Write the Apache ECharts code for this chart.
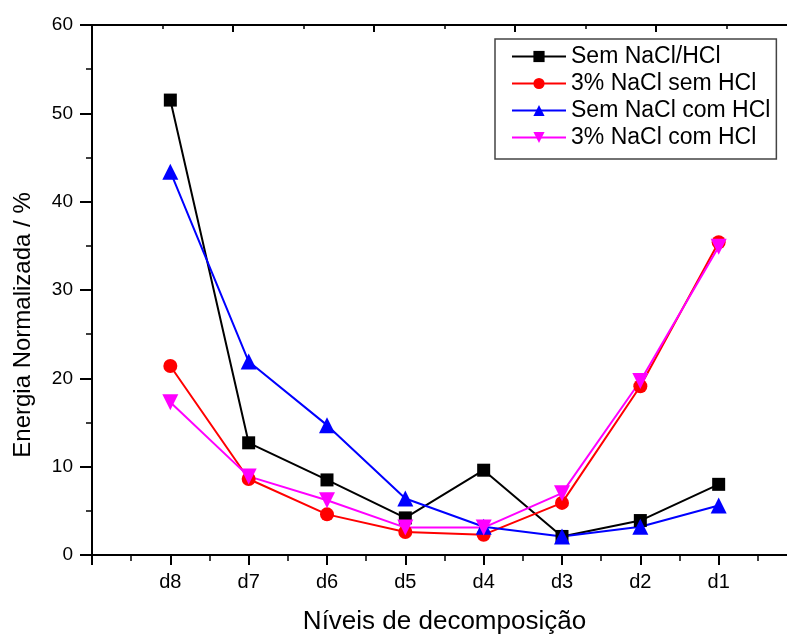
<!DOCTYPE html>
<html>
<head>
<meta charset="utf-8">
<script src="https://cdn.jsdelivr.net/npm/echarts@6/dist/echarts.min.js"></script>
<style>
  html, body { margin: 0; padding: 0; background: #fff; }
  #chart { width: 787px; height: 636px; }
</style>
</head>
<body>
<div id="chart"></div>
<script>
// Decomposition levels (x axis) and normalized energy per level (%)
const levels = ['d8', 'd7', 'd6', 'd5', 'd4', 'd3', 'd2', 'd1'];
const semNaClHCl      = [51.5, 12.7, 8.5, 4.2, 9.6, 2.1, 3.9, 8.0];
const naCl3SemHCl     = [21.4, 8.6, 4.6, 2.6, 2.3, 5.9, 19.1, 35.4];
const semNaClComHCl   = [43.4, 21.9, 14.7, 6.4, 3.2, 2.1, 3.2, 5.6];
const naCl3ComHCl     = [17.3, 8.9, 6.2, 3.1, 3.1, 7.0, 19.7, 34.9];
const yTicks = [0, 10, 20, 30, 40, 50, 60];

const FONT = 'Liberation Sans, Arial, sans-serif';

// Levels sit on integer positions 1..8 of a numeric axis
const toPoints = vals => vals.map((v, i) => [i + 1, v]);

function lineSeries(name, vals, color, symbol, size, rotate) {
  return {
    name: name,
    type: 'line',
    data: toPoints(vals),
    symbol: symbol,
    symbolSize: size,
    symbolRotate: rotate || 0,
    lineStyle: { color: color, width: 2 },
    itemStyle: { color: color, borderWidth: 0 },
    emphasis: { disabled: true },
    animation: false
  };
}

const chart = echarts.init(document.getElementById('chart'), null, { renderer: 'canvas' });

chart.setOption({
  backgroundColor: '#fff',
  animation: false,
  // the frame runs past the right edge of the canvas
  grid: { left: 92, top: 25, width: 705, height: 530, outerBoundsMode: 'none' },
  legend: {
    orient: 'vertical',
    left: 495,
    top: 39,
    padding: [6, 6, 10, 16],
    itemWidth: 54,
    itemHeight: 14,
    itemGap: 4,
    borderColor: '#444',
    borderWidth: 1.5,
    backgroundColor: '#fff',
    textStyle: { fontFamily: FONT, fontSize: 23, color: '#000' },
    data: ['Sem NaCl/HCl', '3% NaCl sem HCl', 'Sem NaCl com HCl', '3% NaCl com HCl']
  },
  xAxis: [
    {
      type: 'value',
      position: 'bottom',
      min: 0, max: 9, interval: 1,
      axisLine: { lineStyle: { color: '#000', width: 2 } },
      axisTick: { length: 10, lineStyle: { color: '#000', width: 2 } },
      minorTick: { show: true, splitNumber: 2, length: 6, lineStyle: { color: '#000', width: 1.5 } },
      splitLine: { show: false },
      axisLabel: {
        margin: 17,
        fontFamily: FONT, fontSize: 20, color: '#000',
        formatter: v => (v >= 1 && v <= levels.length) ? levels[v - 1] : ''
      },
      name: 'Níveis de decomposição',
      nameLocation: 'middle',
      nameGap: 54,
      nameTextStyle: { fontFamily: FONT, fontSize: 26, color: '#000' }
    },
    {
      type: 'value',
      position: 'top',
      min: 0, max: 10, interval: 2,
      axisLine: { lineStyle: { color: '#000', width: 2 } },
      axisTick: { inside: true, length: 7, lineStyle: { color: '#000', width: 2 } },
      minorTick: { show: true, splitNumber: 2, length: 4, lineStyle: { color: '#000', width: 1.5 } },
      splitLine: { show: false },
      axisLabel: { show: false }
    }
  ],
  yAxis: {
    type: 'value',
    min: yTicks[0], max: yTicks[yTicks.length - 1], interval: 10,
    axisLine: { show: true, lineStyle: { color: '#000', width: 2 } },
    axisTick: { length: 12, lineStyle: { color: '#000', width: 2 } },
    minorTick: { show: true, splitNumber: 2, length: 6, lineStyle: { color: '#000', width: 1.5 } },
    splitLine: { show: false },
    axisLabel: { margin: 19, fontFamily: FONT, fontSize: 19, color: '#000' }
  },
  graphic: [{
    type: 'text',
    x: 23, y: 325,
    rotation: Math.PI / 2,
    style: {
      text: 'Energia Normalizada / %',
      fontFamily: FONT, fontSize: 24, fill: '#000',
      textAlign: 'center', textVerticalAlign: 'middle'
    }
  }],
  series: [
    lineSeries('Sem NaCl/HCl', semNaClHCl, '#000000', 'rect', 13),
    lineSeries('3% NaCl sem HCl', naCl3SemHCl, '#ff0000', 'circle', 14),
    lineSeries('Sem NaCl com HCl', semNaClComHCl, '#0000ff', 'triangle', 16),
    lineSeries('3% NaCl com HCl', naCl3ComHCl, '#ff00ff', 'triangle', 16, 180)
  ]
});
</script>
</body>
</html>
